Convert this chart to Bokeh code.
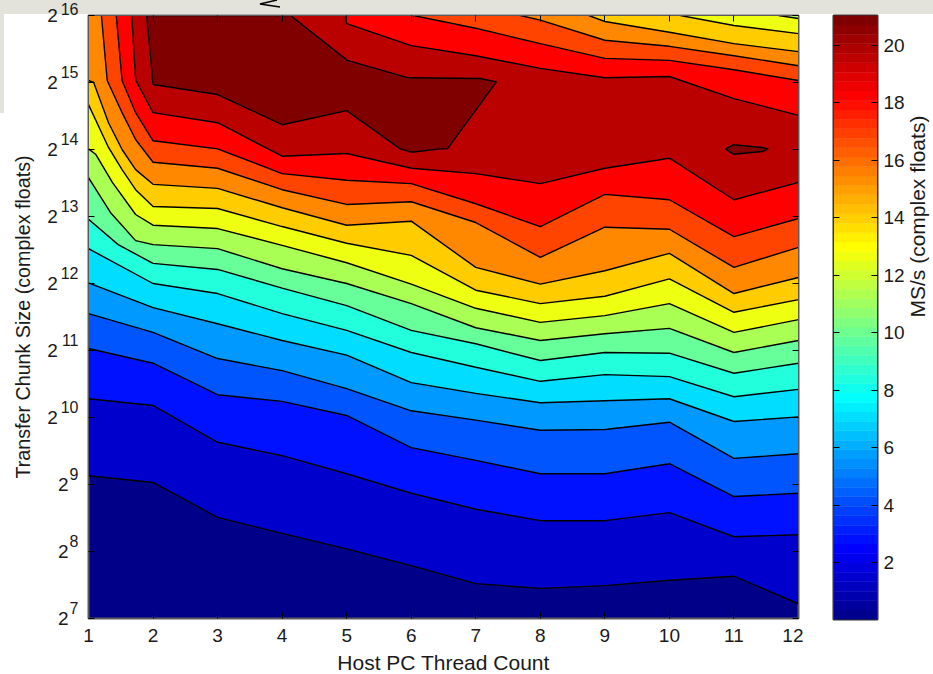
import math
import numpy as np
from bokeh.embed import file_html
from bokeh.layouts import column, row
from bokeh.models import (CustomJSTickFormatter, Div, FixedTicker, LinearAxis,
                          LogAxis, LogTicker, Range1d)
from bokeh.plotting import figure
from bokeh.resources import INLINE

threads = [1, 2, 3, 4, 5, 6, 7, 8, 9, 10, 11, 12]
exponents = [7, 8, 9, 10, 11, 12, 13, 14, 15, 16]
x_label = "Host PC Thread Count"
y_label = "Transfer Chunk Size (complex floats)"
bar_label = "MS/s (complex floats)"
bar_ticks = [2, 4, 6, 8, 10, 12, 14, 16, 18, 20]
bar_min, bar_max = 0.02, 21.04

# contour lines, rising side: log2(chunk size) at thread counts
l1_e = [9.13, 9.03, 8.51, 8.27, 8.04, 7.79, 7.52, 7.45, 7.49, 7.57, 7.63, 7.22]
l2_e = [10.28, 10.18, 9.63, 9.43, 9.16, 8.87, 8.63, 8.46, 8.46, 8.58, 8.22, 8.25]
l3_e = [11.03, 10.81, 10.34, 10.24, 10.03, 9.55, 9.36, 9.16, 9.16, 9.31, 8.82, 8.87]
l4_e = [11.55, 11.27, 10.88, 10.70, 10.43, 10.10, 9.96, 9.81, 9.82, 9.93, 9.39, 9.46]
l5_e = [12.01, 11.64, 11.40, 11.15, 10.93, 10.52, 10.36, 10.22, 10.25, 10.28, 9.94, 10.01]
l6_e = [12.52, 12.00, 11.85, 11.55, 11.30, 10.97, 10.75, 10.54, 10.64, 10.61, 10.31, 10.42]
l7_t = [1, 1.46] + threads[1:]
l7_e = [12.96, 12.58, 12.30, 12.21, 11.93, 11.67, 11.30, 11.10, 10.85, 10.97, 10.96, 10.66, 10.81]
l8_t = [1, 1.34, 1.73] + threads[1:]
l8_e = [13.58, 13.06, 12.64, 12.58, 12.52, 12.22, 12.00, 11.70, 11.34, 11.15, 11.25, 11.33, 10.97, 11.15]
l9_t = [1, 1.11, 1.37, 1.73] + threads[1:]
l9_e = [14.01, 13.93, 13.51, 13.03, 12.87, 12.82, 12.57, 12.31, 11.99, 11.63, 11.42, 11.52, 11.70, 11.27, 11.46]
l10_t = [1, 1.31, 1.52, 1.73] + threads[1:]
l10_e = [14.67, 14.03, 13.70, 13.40, 13.15, 13.12, 12.85, 12.60, 12.42, 11.90, 11.70, 11.81, 12.07, 11.57, 11.76]
l11_t = [1, 1.08, 1.31, 1.52, 1.73] + threads[1:]
l11_e = [15.03, 15.00, 14.40, 14.00, 13.70, 13.48, 13.42, 13.13, 12.87, 12.93, 12.24, 11.99, 12.19, 12.45, 11.85, 12.09]
l12_t = [1.20, 1.29, 1.52, 1.73] + threads[1:]
l12_e = [16, 15.03, 14.55, 14.15, 13.81, 13.72, 13.40, 13.18, 13.22, 12.91, 12.39, 12.84, 12.81, 12.24, 12.54]
l13_t = [1.43, 1.52, 1.73] + threads[1:]
l13_e = [16, 15.03, 14.55, 14.13, 14.01, 13.64, 13.54, 13.49, 13.19, 12.85, 13.33, 13.25, 12.70, 12.97]
l14_t = [1.67, 1.73] + threads[1:]
l14_e = [16, 15.04, 14.55, 14.40, 13.90, 13.94, 13.72, 13.64, 13.49, 13.72, 13.87, 13.25, 13.51]

# contour lines, falling side towards the top right
u14_t = [4.98, 5, 6, 7, 8, 9, 10, 11, 12]
u14_e = [16, 15.88, 15.55, 15.40, 15.21, 15.07, 15.09, 14.76, 14.51]
u13_t = [6.03, 7, 8, 9, 10, 11, 12]
u13_e = [16, 15.81, 15.58, 15.36, 15.33, 15.19, 15.03]
u12_t = [7.69, 8, 9, 10, 11, 12]
u12_e = [16, 15.93, 15.63, 15.54, 15.40, 15.25]
u11_t = [8.75, 9, 10, 11, 12]
u11_e = [16, 15.91, 15.75, 15.58, 15.46]
u10_t = [10.17, 11, 12]
u10_e = [16, 15.85, 15.73]
u9_t = [11.69, 12]
u9_e = [16, 15.955]

# the two closed peak regions
peak_t = [1.90, 1.96, 2, 3, 4, 5, 5.83, 6, 6.45, 6.56, 7.32, 7.07, 5.96, 5.01, 4.13]
peak_e = [16, 15.40, 14.97, 14.82, 14.37, 14.58, 14.01, 13.96, 14.01, 14.01, 15.01, 15.06, 15.07, 15.33, 16]
isle_t = [10.87, 10.99, 11.44, 11.53, 11.44, 10.99]
isle_e = [14.01, 14.07, 14.03, 14.01, 13.97, 13.93]

band_colors = ["#000088", "#0000CC", "#0011FF", "#0055FF", "#0099FF", "#00DDFF", "#22FFDD", "#66FF99",
               "#AAFF55", "#EEFF11", "#FFCC00", "#FF8800", "#FF4400", "#FF0000", "#BB0000", "#800000"]

FONT = "Liberation Sans"
TXT = "#1a1a1a"
EDGE = "#5a5a5a"
STRIP = "#E3E3DB"
LW = 1.4
exp_top, exp_bottom = 16, 7


def blank():
    return CustomJSTickFormatter(code="return ''")


p = figure(frame_width=710, frame_height=603, y_axis_type="log", x_range=Range1d(1, 12),
           y_range=Range1d(2 ** exp_bottom, 2 ** exp_top), output_backend="svg", toolbar_location=None,
           min_border_left=88, min_border_top=15, min_border_right=5, min_border_bottom=30,
           background_fill_color=band_colors[0], outline_line_color=EDGE, outline_line_width=2,
           border_fill_color=None)
p.grid.visible = False

rising = [(threads, l1_e), (threads, l2_e), (threads, l3_e), (threads, l4_e), (threads, l5_e), (threads, l6_e),
          (l7_t, l7_e), (l8_t, l8_e), (l9_t, l9_e), (l10_t, l10_e), (l11_t, l11_e), (l12_t, l12_e),
          (l13_t, l13_e), (l14_t, l14_e)]
falling = [(u14_t, u14_e, 13), (u13_t, u13_e, 12), (u12_t, u12_e, 11), (u11_t, u11_e, 10), (u10_t, u10_e, 9),
           (u9_t, u9_e, 8)]

for i, (t, e) in enumerate(rising):
    y = [2.0 ** v for v in e]
    p.varea(t, y, [2.0 ** exp_top] * len(t), fill_color=band_colors[i + 1])
for t, e, k in falling:
    y = [2.0 ** v for v in e]
    p.varea(t, y, [2.0 ** exp_top] * len(t), fill_color=band_colors[k])
for t, e in [(peak_t, peak_e), (isle_t, isle_e)]:
    p.patch(t + t[:1], [2.0 ** v for v in e + e[:1]], fill_color=band_colors[15], line_color="black", line_width=LW)
for t, e in rising + [(a, b) for a, b, _ in falling]:
    p.line(t, [2.0 ** v for v in e], line_color="black", line_width=LW)

y_ticker = LogTicker(base=2, num_minor_ticks=0, mantissas=[1])
x_ticker = FixedTicker(ticks=threads)
p.xaxis.ticker = x_ticker
p.yaxis.ticker = y_ticker
p.yaxis.formatter = blank()
p.yaxis.major_label_text_font_size = "0px"
p.xaxis.axis_label = x_label

p.add_layout(LinearAxis(ticker=x_ticker, formatter=blank(), major_label_text_font_size="0px"), "above")
p.add_layout(LogAxis(ticker=y_ticker, formatter=blank(), major_label_text_font_size="0px"), "right")

# the power labels: exponent column raised by a blank second line, base column beside it
exp_axis = LogAxis(ticker=y_ticker, major_label_overrides={2 ** e: f"{e}\n\u00a0" for e in exponents},
                   major_label_text_font_size="16px", major_label_standoff=10)
base_axis = LogAxis(ticker=y_ticker, major_label_overrides={2 ** e: "2\u2007" if e >= 10 else "2" for e in exponents},
                    major_label_text_font_size="19px", major_label_standoff=-11,
                    axis_label=y_label, axis_label_standoff=10, axis_label_text_font_size="19.7px")
p.add_layout(exp_axis, "left")
p.add_layout(base_axis, "left")
for ax in p.axis:
    ax.major_tick_in = 6
    ax.major_tick_out = 0
    ax.minor_tick_in = 0
    ax.minor_tick_out = 0
    ax.major_tick_line_color = "black"
    ax.axis_line_color = EDGE
    ax.axis_line_width = 1
    ax.major_label_text_font = FONT
    ax.major_label_text_color = TXT
    ax.axis_label_text_font = FONT
    ax.axis_label_text_color = TXT
    ax.axis_label_text_font_style = "normal"
for ax in (exp_axis, base_axis):
    ax.major_tick_in = 0
    ax.major_tick_line_color = None
    ax.axis_line_color = None
p.below[0].major_label_text_font_size = "19px"
p.below[0].major_label_standoff = 10
p.below[0].axis_label_standoff = 6
p.below[0].axis_label_text_font_size = "21px"

# colour bar
n = 64
t = (np.arange(n) + 1) / n
r = np.clip(np.minimum(4 * t - 1.5, -4 * t + 4.5), 0, 1)
g = np.clip(np.minimum(4 * t - 0.5, -4 * t + 3.5), 0, 1)
b = np.clip(np.minimum(4 * t + 0.5, -4 * t + 2.5), 0, 1)
jet = ["#%02X%02X%02X" % (int(a * 255), int(c * 255), int(d * 255)) for a, c, d in zip(r, g, b)]
edges = np.linspace(bar_min, bar_max, n + 1)

c = figure(frame_width=44, frame_height=604, x_range=Range1d(0, 1), y_range=Range1d(bar_min, bar_max),
           y_axis_location="right", output_backend="svg", toolbar_location=None, min_border_left=30,
           min_border_top=15, min_border_right=0, min_border_bottom=30, outline_line_color="#333333",
           outline_line_width=2, border_fill_color=None)
c.grid.visible = False
c.xaxis.visible = False
c.quad(left=0, right=1, bottom=edges[:-1], top=edges[1:], fill_color=jet, line_color=jet, line_width=0.5)
bar_ticker = FixedTicker(ticks=bar_ticks)
c.yaxis.ticker = bar_ticker
c.yaxis.axis_label = bar_label
c.yaxis.axis_label_orientation = math.pi / 2
c.yaxis.axis_label_text_align = "center"
c.yaxis.axis_label_text_baseline = "middle"
c.add_layout(LinearAxis(ticker=bar_ticker, formatter=blank(), major_label_text_font_size="0px"), "left")
for ax in c.yaxis:
    ax.major_tick_in = 6
    ax.major_tick_out = 0
    ax.minor_tick_in = 0
    ax.minor_tick_out = 0
    ax.major_tick_line_color = "black"
    ax.axis_line_color = "#333333"
c.right[0].major_label_text_font = FONT
c.right[0].major_label_text_font_size = "19px"
c.right[0].major_label_text_color = TXT
c.right[0].major_label_standoff = 6
c.right[0].axis_label_text_font = FONT
c.right[0].axis_label_text_font_size = "21px"
c.right[0].axis_label_text_font_style = "normal"
c.right[0].axis_label_text_color = TXT
c.right[0].axis_label_standoff = 10

backdrop = Div(width=0, height=0, margin=(0, 0, 0, 0), text=(
    '<svg width="933" height="120" style="position:absolute;left:0;top:0;z-index:-1">'
    f'<rect x="0" y="0" width="933" height="14" fill="{STRIP}"/>'
    f'<rect x="0" y="0" width="4" height="113" fill="{STRIP}"/>'
    '<polyline points="280,7 260,4 277,0" fill="none" stroke="black" stroke-width="1.5"/>'
    '</svg>'))

layout = column(backdrop, row(p, c, spacing=0), spacing=0)
open("out.html", "w").write(file_html(layout, INLINE))
